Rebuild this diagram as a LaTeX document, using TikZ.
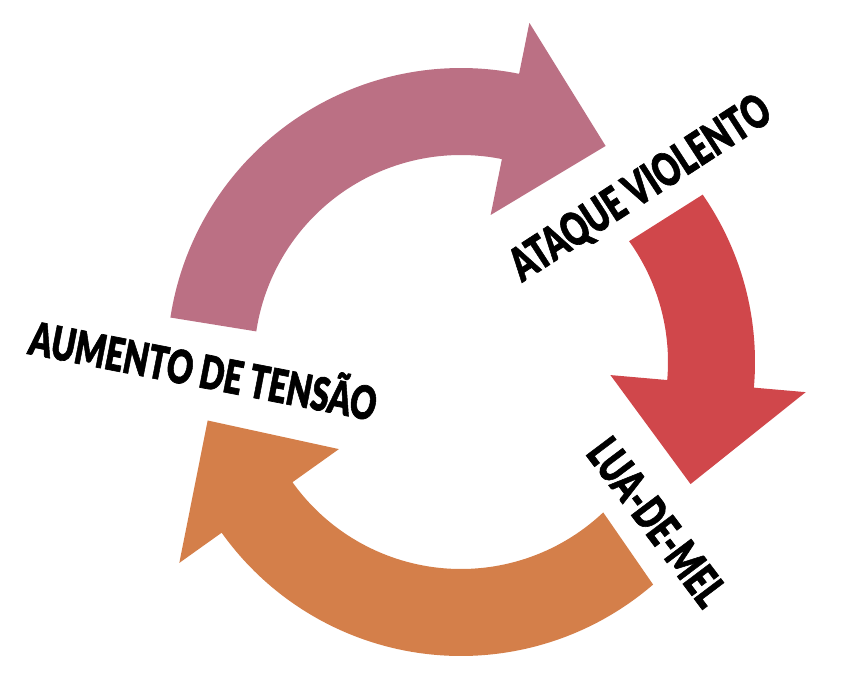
\documentclass[tikz,border=0pt]{standalone}
\usepackage{fontspec}
\usepackage{graphicx}
\IfFontExistsTF{Lato Black}
  {\newfontfamily\cyclefont{Lato Black}[FakeBold=1.5]}
  {\newfontfamily\cyclefont{DejaVu Sans}[UprightFont=* Bold]}
\definecolor{tensaopink}{RGB}{187,112,132}
\definecolor{ataquered}{RGB}{208,71,75}
\definecolor{meleorange}{RGB}{212,127,74}
\newcommand{\faixa}[1]{\scalebox{0.70}[1]{#1}}

\begin{document}
\begin{tikzpicture}[x=1pt,y=1pt,
  cyclelabel/.style={font=\cyclefont\fontsize{46}{46}\selectfont,inner sep=0pt},
  pinkarrow/.style={fill=tensaopink},
  redarrow/.style={fill=ataquered},
  orangearrow/.style={fill=meleorange}]
\useasboundingbox (-461,-327) rectangle (396,362);
% aumento de tensao -> ataque violento
\fill[pinkarrow] (171.3:294) arc[start angle=171.3,end angle=78.6,radius=294]
  -- (78.6:346) -- (56.2:260) -- (78.6:150) -- (78.6:207)
  arc[start angle=78.6,end angle=171.5,radius=207] -- cycle;
% ataque violento -> lua-de-mel
\fill[redarrow] (34.7:294) arc[start angle=34.7,end angle=-5,radius=294]
  -- (-5:346) -- (-28:260) -- (-5:150) -- (-5:207)
  arc[start angle=-5,end angle=35.7,radius=207] -- cycle;
% lua-de-mel -> aumento de tensao
\fill[orangearrow] (-49.2:294) arc[start angle=-49.2,end angle=-144.5,radius=294]
  -- (-144.5:346) -- (-167:260) -- (-144.5:150) -- (-144.5:207)
  arc[start angle=-144.5,end angle=-46.6,radius=207] -- cycle;

\node[cyclelabel,rotate=-11] (tensao) at (-257,-5) {\faixa{AUMENTO DE TENSÃO}};
\node[cyclelabel,rotate=33] (ataque) at (180,173) {\faixa{ATAQUE VIOLENTO}};
\node[cyclelabel,rotate=-53] (luademel) at (196,-160) {\faixa{LUA-DE-MEL}};

\end{tikzpicture}
\end{document}
